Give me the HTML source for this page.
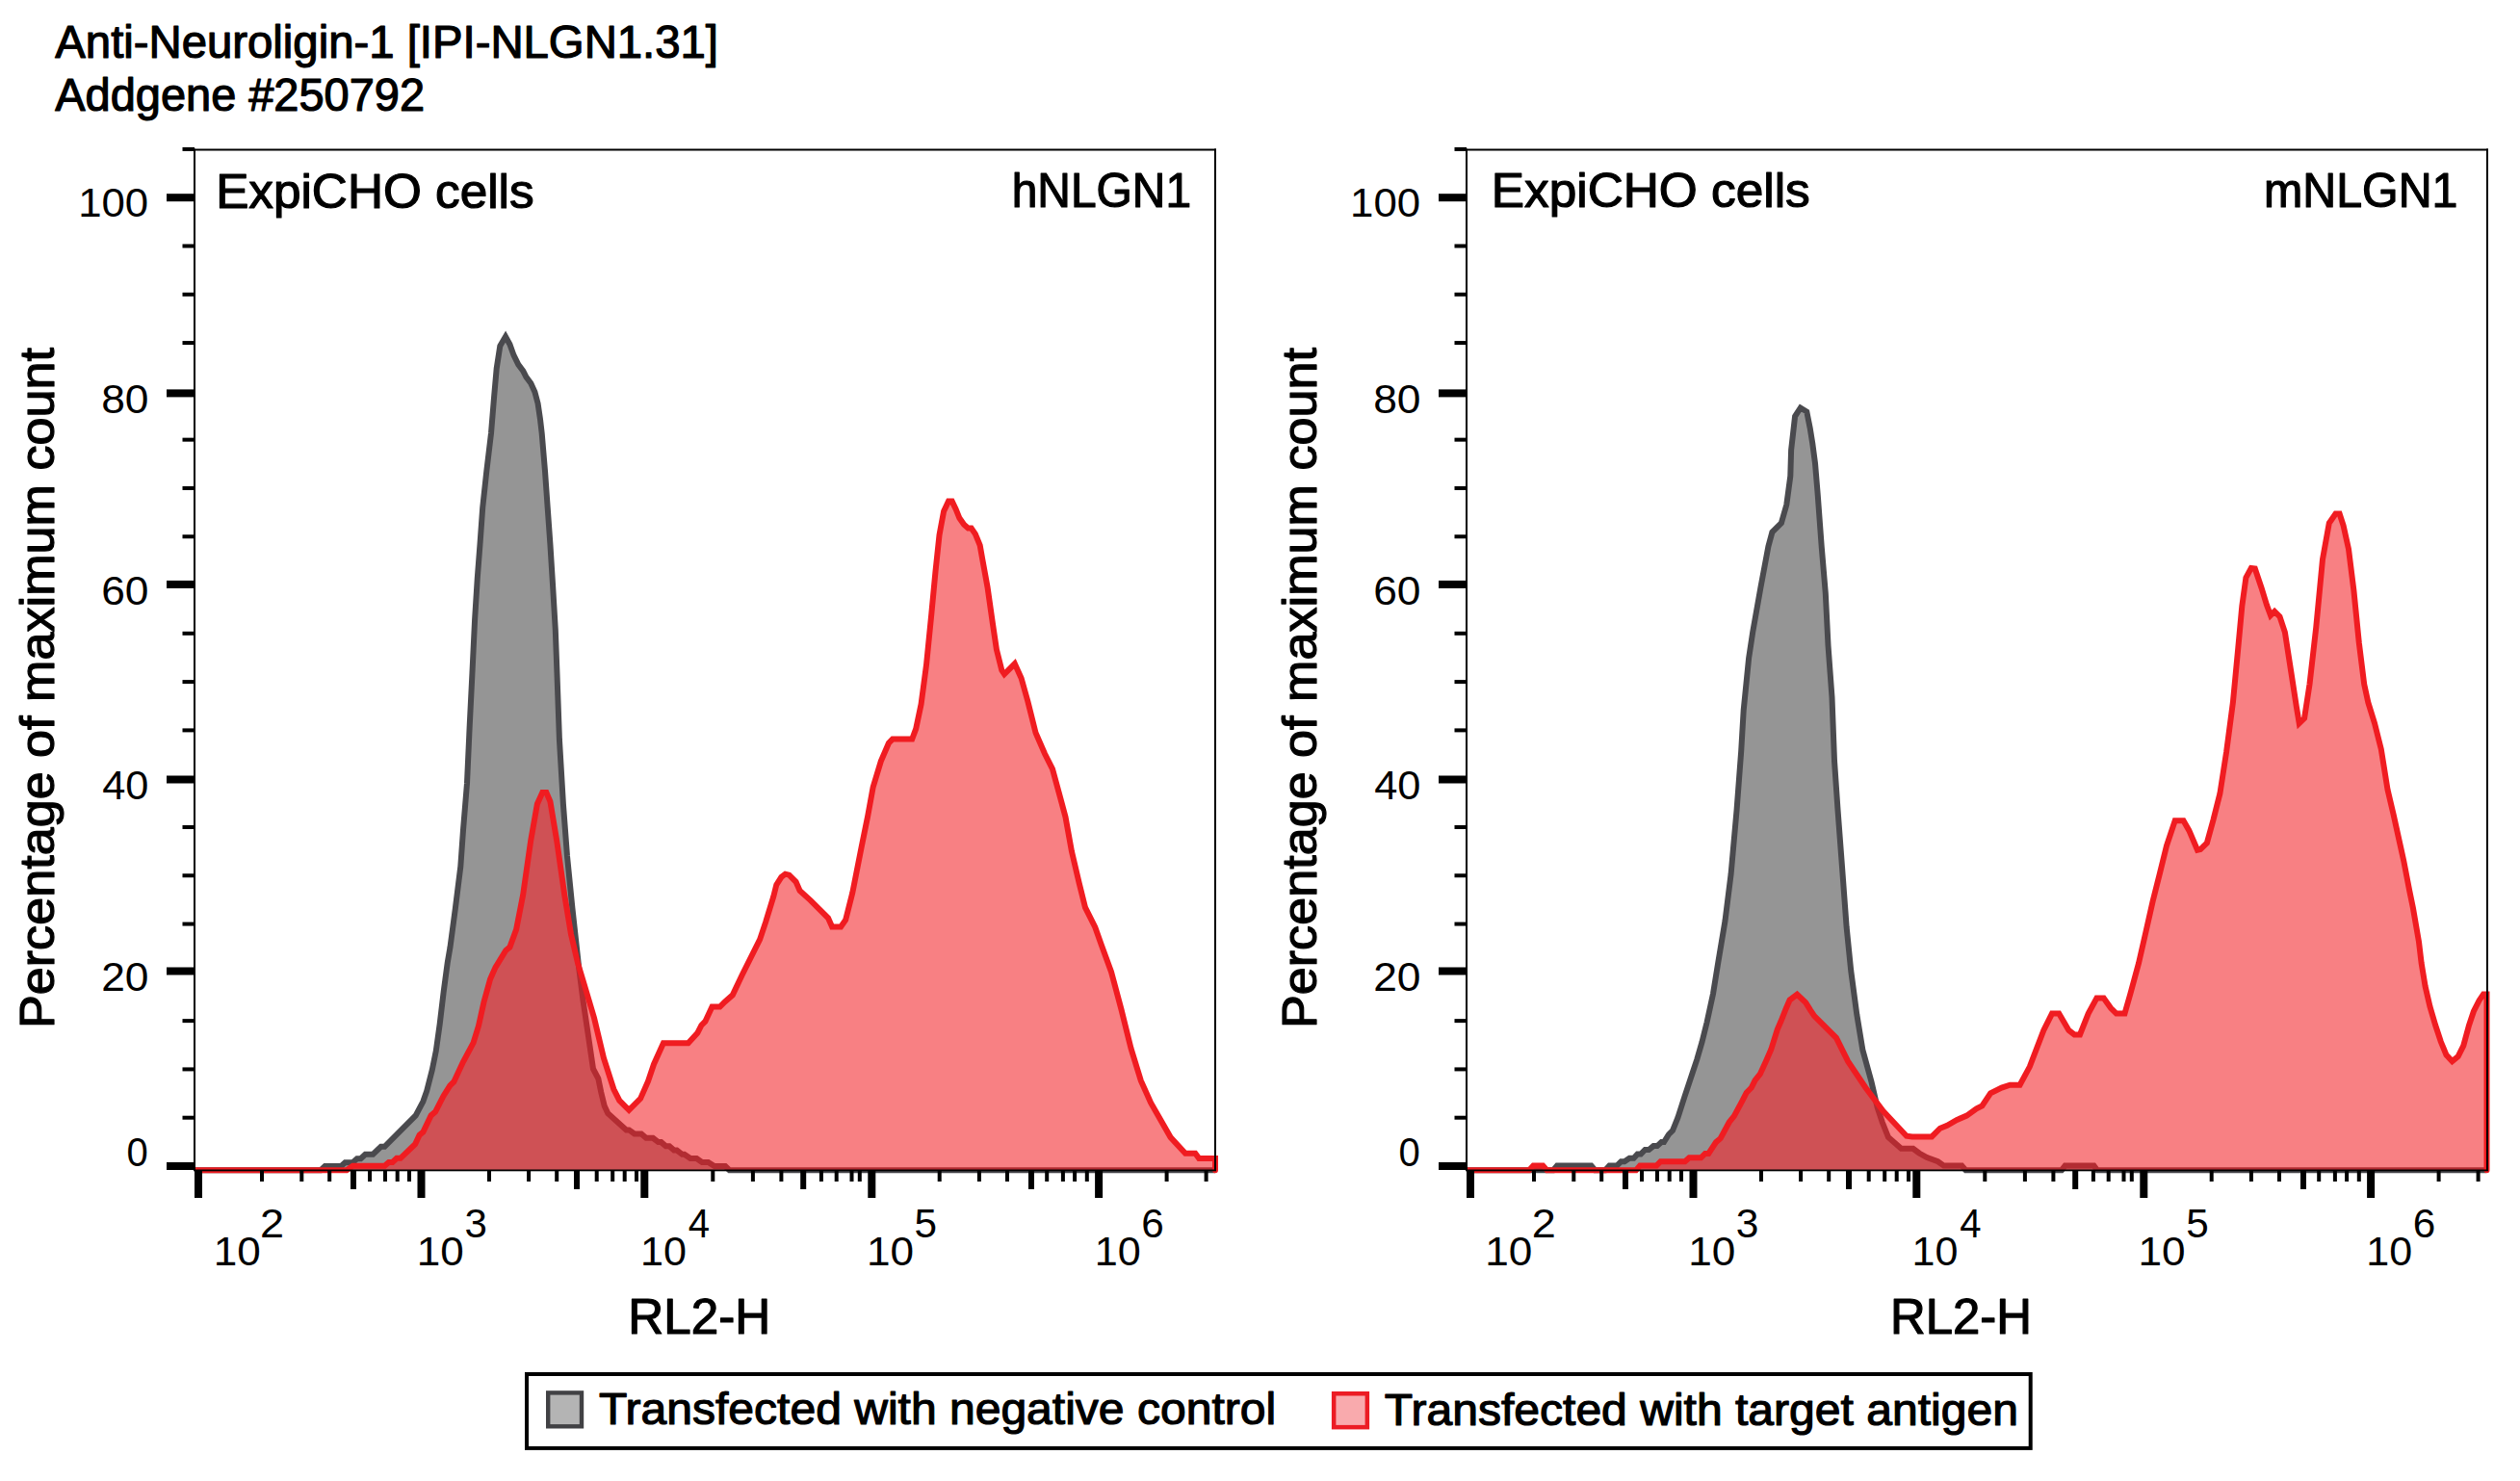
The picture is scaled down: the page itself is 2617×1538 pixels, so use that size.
<!DOCTYPE html>
<html><head><meta charset="utf-8"><style>
html,body{margin:0;padding:0;background:#fff;}
body{width:2617px;height:1538px;overflow:hidden;}
svg{display:block;}
</style></head><body>
<svg width="2617" height="1538" viewBox="0 0 2617 1538">
<rect width="2617" height="1538" fill="#fff"/>
<clipPath id="c1"><rect x="203" y="150" width="1063" height="1075"/></clipPath><clipPath id="c1g"><path d="M202 1215.2 L333 1215.2 L337.5 1211 L354.3 1211 L358.4 1207.3 L366.3 1207.3 L370.8 1203.2 L374.6 1203.2 L379.4 1198.7 L387.3 1198.7 L395.6 1190.8 L399.4 1190.8 L431.7 1158.4 L439.4 1143.8 L443.2 1133 L448.8 1111.1 L452.8 1091.3 L456.7 1063.5 L460.7 1029.8 L464.7 1000 L467.5 983.6 L472.9 943.1 L478.3 899.9 L481 862 L485 813.4 L487.7 754 L490.4 700 L493.1 643.3 L495.8 600.1 L498.5 565 L501.2 527.2 L505.3 489.3 L510 450 L513.2 411 L515.7 382.7 L519.3 359.2 L525 349.5 L529.4 357.6 L533.5 368.9 L538.3 378.6 L543.2 385.1 L546.5 391.6 L551.3 398 L555.4 407 L558.6 419.1 L561 435.3 L562.7 450 L566 489.3 L568.7 527.2 L571.4 565 L574.1 608.2 L576.8 654.1 L578.5 700 L580.9 767.5 L584.9 835 L589 889 L594.4 943.1 L601.2 1005.2 L605.6 1039.7 L611.5 1079.4 L616 1110 L621.3 1120 L624.2 1134.2 L627.7 1148.4 L631.3 1156.2 L650.4 1173.4 L653.2 1173.4 L658.9 1177.5 L666 1177.5 L671 1181.8 L678.1 1181.8 L683.7 1186.1 L686.6 1186.1 L691.5 1190.3 L695.1 1190.3 L700 1194.6 L702.9 1194.6 L708.5 1198.8 L710.7 1198.8 L717 1203.1 L723.4 1203.1 L729.1 1207 L735.5 1207 L741.9 1211 L753.2 1211 L757.5 1215.2 L1262 1215.2 Z"/></clipPath><clipPath id="c1r"><path d="M202 1215.2 L360 1215.2 L366.3 1210.8 L399.4 1210.8 L403.8 1207 L407.6 1207 L412 1202.8 L415.9 1202.8 L431.1 1188.2 L435.6 1178.7 L439.4 1175.5 L447.6 1158.4 L452.1 1154.6 L460.5 1138.2 L467.3 1127.4 L471.3 1123.4 L480.8 1103.1 L491.6 1082.9 L497 1065.3 L502.4 1041 L509.1 1016.7 L514.5 1004.6 L525.3 987 L529.4 983.6 L536.1 965.4 L543.1 929.6 L551.2 872.9 L557.9 835 L563.3 823 L567.4 823 L571.4 832.3 L578.2 872.9 L586.3 929.6 L593 970.1 L600 1000 L609 1030 L617 1057 L627 1099 L637.3 1131 L643.3 1142.9 L653.2 1152.8 L665.1 1140.9 L673 1123 L679 1105.2 L688.9 1083.3 L714.7 1083.3 L724.3 1072.8 L728.4 1064.7 L732.4 1060.7 L739.5 1045.5 L747.6 1045.5 L752.7 1040.4 L760.8 1033.3 L770.9 1012 L789.1 975.6 L795.2 957.4 L803.3 931 L806.3 918.9 L811.4 910.8 L815.5 907.7 L819.5 908.7 L826.6 915.8 L830.6 924.9 L841.8 935.1 L860 953.3 L864.1 962.4 L873.2 962.4 L878.2 955.3 L885.3 927 L894.5 880.4 L901.2 847.3 L906.6 817.6 L914.8 790.6 L922.9 771.7 L926.9 767.6 L947.2 767.6 L951.2 756.8 L956.6 731.2 L962 690.7 L967.4 636.6 L971.5 593.4 L975.5 555.6 L977 547.5 L980.1 531 L985 520.6 L988.7 520.6 L992.6 528.6 L996.4 538.1 L1001.1 544.7 L1005.4 548.5 L1008.7 548.5 L1012.9 554.6 L1017.7 566.4 L1020.1 580 L1025.5 609.6 L1030.9 647.5 L1034.9 674.5 L1040.3 696.1 L1043 700.1 L1053.8 689.3 L1060.6 704.2 L1067.4 728.5 L1075.5 760.9 L1084.9 782.5 L1093 798.7 L1101.1 828.4 L1106.5 848.5 L1112.9 884 L1120.6 916.7 L1127 942.4 L1137.3 962.9 L1143.7 980.9 L1154 1009.1 L1164.3 1047.6 L1174.5 1088.7 L1184.8 1122.1 L1195.1 1145.2 L1215.6 1181.1 L1231 1197.8 L1241.3 1197.8 L1245.1 1202.9 L1262 1202.9 L1262 1215.2 Z"/></clipPath><g clip-path="url(#c1)"><path d="M202 1215.2 L333 1215.2 L337.5 1211 L354.3 1211 L358.4 1207.3 L366.3 1207.3 L370.8 1203.2 L374.6 1203.2 L379.4 1198.7 L387.3 1198.7 L395.6 1190.8 L399.4 1190.8 L431.7 1158.4 L439.4 1143.8 L443.2 1133 L448.8 1111.1 L452.8 1091.3 L456.7 1063.5 L460.7 1029.8 L464.7 1000 L467.5 983.6 L472.9 943.1 L478.3 899.9 L481 862 L485 813.4 L487.7 754 L490.4 700 L493.1 643.3 L495.8 600.1 L498.5 565 L501.2 527.2 L505.3 489.3 L510 450 L513.2 411 L515.7 382.7 L519.3 359.2 L525 349.5 L529.4 357.6 L533.5 368.9 L538.3 378.6 L543.2 385.1 L546.5 391.6 L551.3 398 L555.4 407 L558.6 419.1 L561 435.3 L562.7 450 L566 489.3 L568.7 527.2 L571.4 565 L574.1 608.2 L576.8 654.1 L578.5 700 L580.9 767.5 L584.9 835 L589 889 L594.4 943.1 L601.2 1005.2 L605.6 1039.7 L611.5 1079.4 L616 1110 L621.3 1120 L624.2 1134.2 L627.7 1148.4 L631.3 1156.2 L650.4 1173.4 L653.2 1173.4 L658.9 1177.5 L666 1177.5 L671 1181.8 L678.1 1181.8 L683.7 1186.1 L686.6 1186.1 L691.5 1190.3 L695.1 1190.3 L700 1194.6 L702.9 1194.6 L708.5 1198.8 L710.7 1198.8 L717 1203.1 L723.4 1203.1 L729.1 1207 L735.5 1207 L741.9 1211 L753.2 1211 L757.5 1215.2 L1262 1215.2 Z" fill="#959595"/><path d="M202 1215.2 L360 1215.2 L366.3 1210.8 L399.4 1210.8 L403.8 1207 L407.6 1207 L412 1202.8 L415.9 1202.8 L431.1 1188.2 L435.6 1178.7 L439.4 1175.5 L447.6 1158.4 L452.1 1154.6 L460.5 1138.2 L467.3 1127.4 L471.3 1123.4 L480.8 1103.1 L491.6 1082.9 L497 1065.3 L502.4 1041 L509.1 1016.7 L514.5 1004.6 L525.3 987 L529.4 983.6 L536.1 965.4 L543.1 929.6 L551.2 872.9 L557.9 835 L563.3 823 L567.4 823 L571.4 832.3 L578.2 872.9 L586.3 929.6 L593 970.1 L600 1000 L609 1030 L617 1057 L627 1099 L637.3 1131 L643.3 1142.9 L653.2 1152.8 L665.1 1140.9 L673 1123 L679 1105.2 L688.9 1083.3 L714.7 1083.3 L724.3 1072.8 L728.4 1064.7 L732.4 1060.7 L739.5 1045.5 L747.6 1045.5 L752.7 1040.4 L760.8 1033.3 L770.9 1012 L789.1 975.6 L795.2 957.4 L803.3 931 L806.3 918.9 L811.4 910.8 L815.5 907.7 L819.5 908.7 L826.6 915.8 L830.6 924.9 L841.8 935.1 L860 953.3 L864.1 962.4 L873.2 962.4 L878.2 955.3 L885.3 927 L894.5 880.4 L901.2 847.3 L906.6 817.6 L914.8 790.6 L922.9 771.7 L926.9 767.6 L947.2 767.6 L951.2 756.8 L956.6 731.2 L962 690.7 L967.4 636.6 L971.5 593.4 L975.5 555.6 L977 547.5 L980.1 531 L985 520.6 L988.7 520.6 L992.6 528.6 L996.4 538.1 L1001.1 544.7 L1005.4 548.5 L1008.7 548.5 L1012.9 554.6 L1017.7 566.4 L1020.1 580 L1025.5 609.6 L1030.9 647.5 L1034.9 674.5 L1040.3 696.1 L1043 700.1 L1053.8 689.3 L1060.6 704.2 L1067.4 728.5 L1075.5 760.9 L1084.9 782.5 L1093 798.7 L1101.1 828.4 L1106.5 848.5 L1112.9 884 L1120.6 916.7 L1127 942.4 L1137.3 962.9 L1143.7 980.9 L1154 1009.1 L1164.3 1047.6 L1174.5 1088.7 L1184.8 1122.1 L1195.1 1145.2 L1215.6 1181.1 L1231 1197.8 L1241.3 1197.8 L1245.1 1202.9 L1262 1202.9 L1262 1215.2 Z" fill="#f88083"/><g clip-path="url(#c1g)"><path d="M202 1215.2 L360 1215.2 L366.3 1210.8 L399.4 1210.8 L403.8 1207 L407.6 1207 L412 1202.8 L415.9 1202.8 L431.1 1188.2 L435.6 1178.7 L439.4 1175.5 L447.6 1158.4 L452.1 1154.6 L460.5 1138.2 L467.3 1127.4 L471.3 1123.4 L480.8 1103.1 L491.6 1082.9 L497 1065.3 L502.4 1041 L509.1 1016.7 L514.5 1004.6 L525.3 987 L529.4 983.6 L536.1 965.4 L543.1 929.6 L551.2 872.9 L557.9 835 L563.3 823 L567.4 823 L571.4 832.3 L578.2 872.9 L586.3 929.6 L593 970.1 L600 1000 L609 1030 L617 1057 L627 1099 L637.3 1131 L643.3 1142.9 L653.2 1152.8 L665.1 1140.9 L673 1123 L679 1105.2 L688.9 1083.3 L714.7 1083.3 L724.3 1072.8 L728.4 1064.7 L732.4 1060.7 L739.5 1045.5 L747.6 1045.5 L752.7 1040.4 L760.8 1033.3 L770.9 1012 L789.1 975.6 L795.2 957.4 L803.3 931 L806.3 918.9 L811.4 910.8 L815.5 907.7 L819.5 908.7 L826.6 915.8 L830.6 924.9 L841.8 935.1 L860 953.3 L864.1 962.4 L873.2 962.4 L878.2 955.3 L885.3 927 L894.5 880.4 L901.2 847.3 L906.6 817.6 L914.8 790.6 L922.9 771.7 L926.9 767.6 L947.2 767.6 L951.2 756.8 L956.6 731.2 L962 690.7 L967.4 636.6 L971.5 593.4 L975.5 555.6 L977 547.5 L980.1 531 L985 520.6 L988.7 520.6 L992.6 528.6 L996.4 538.1 L1001.1 544.7 L1005.4 548.5 L1008.7 548.5 L1012.9 554.6 L1017.7 566.4 L1020.1 580 L1025.5 609.6 L1030.9 647.5 L1034.9 674.5 L1040.3 696.1 L1043 700.1 L1053.8 689.3 L1060.6 704.2 L1067.4 728.5 L1075.5 760.9 L1084.9 782.5 L1093 798.7 L1101.1 828.4 L1106.5 848.5 L1112.9 884 L1120.6 916.7 L1127 942.4 L1137.3 962.9 L1143.7 980.9 L1154 1009.1 L1164.3 1047.6 L1174.5 1088.7 L1184.8 1122.1 L1195.1 1145.2 L1215.6 1181.1 L1231 1197.8 L1241.3 1197.8 L1245.1 1202.9 L1262 1202.9 L1262 1215.2 Z" fill="#cf5155"/></g><mask id="c1m" maskUnits="userSpaceOnUse" x="0" y="0" width="2617" height="1538"><rect x="0" y="0" width="2617" height="1538" fill="#fff"/><path d="M202 1215.2 L360 1215.2 L366.3 1210.8 L399.4 1210.8 L403.8 1207 L407.6 1207 L412 1202.8 L415.9 1202.8 L431.1 1188.2 L435.6 1178.7 L439.4 1175.5 L447.6 1158.4 L452.1 1154.6 L460.5 1138.2 L467.3 1127.4 L471.3 1123.4 L480.8 1103.1 L491.6 1082.9 L497 1065.3 L502.4 1041 L509.1 1016.7 L514.5 1004.6 L525.3 987 L529.4 983.6 L536.1 965.4 L543.1 929.6 L551.2 872.9 L557.9 835 L563.3 823 L567.4 823 L571.4 832.3 L578.2 872.9 L586.3 929.6 L593 970.1 L600 1000 L609 1030 L617 1057 L627 1099 L637.3 1131 L643.3 1142.9 L653.2 1152.8 L665.1 1140.9 L673 1123 L679 1105.2 L688.9 1083.3 L714.7 1083.3 L724.3 1072.8 L728.4 1064.7 L732.4 1060.7 L739.5 1045.5 L747.6 1045.5 L752.7 1040.4 L760.8 1033.3 L770.9 1012 L789.1 975.6 L795.2 957.4 L803.3 931 L806.3 918.9 L811.4 910.8 L815.5 907.7 L819.5 908.7 L826.6 915.8 L830.6 924.9 L841.8 935.1 L860 953.3 L864.1 962.4 L873.2 962.4 L878.2 955.3 L885.3 927 L894.5 880.4 L901.2 847.3 L906.6 817.6 L914.8 790.6 L922.9 771.7 L926.9 767.6 L947.2 767.6 L951.2 756.8 L956.6 731.2 L962 690.7 L967.4 636.6 L971.5 593.4 L975.5 555.6 L977 547.5 L980.1 531 L985 520.6 L988.7 520.6 L992.6 528.6 L996.4 538.1 L1001.1 544.7 L1005.4 548.5 L1008.7 548.5 L1012.9 554.6 L1017.7 566.4 L1020.1 580 L1025.5 609.6 L1030.9 647.5 L1034.9 674.5 L1040.3 696.1 L1043 700.1 L1053.8 689.3 L1060.6 704.2 L1067.4 728.5 L1075.5 760.9 L1084.9 782.5 L1093 798.7 L1101.1 828.4 L1106.5 848.5 L1112.9 884 L1120.6 916.7 L1127 942.4 L1137.3 962.9 L1143.7 980.9 L1154 1009.1 L1164.3 1047.6 L1174.5 1088.7 L1184.8 1122.1 L1195.1 1145.2 L1215.6 1181.1 L1231 1197.8 L1241.3 1197.8 L1245.1 1202.9 L1262 1202.9 L1262 1215.2 Z" fill="#000"/></mask><g mask="url(#c1m)"><path d="M202 1215.2 L333 1215.2 L337.5 1211 L354.3 1211 L358.4 1207.3 L366.3 1207.3 L370.8 1203.2 L374.6 1203.2 L379.4 1198.7 L387.3 1198.7 L395.6 1190.8 L399.4 1190.8 L431.7 1158.4 L439.4 1143.8 L443.2 1133 L448.8 1111.1 L452.8 1091.3 L456.7 1063.5 L460.7 1029.8 L464.7 1000 L467.5 983.6 L472.9 943.1 L478.3 899.9 L481 862 L485 813.4 L487.7 754 L490.4 700 L493.1 643.3 L495.8 600.1 L498.5 565 L501.2 527.2 L505.3 489.3 L510 450 L513.2 411 L515.7 382.7 L519.3 359.2 L525 349.5 L529.4 357.6 L533.5 368.9 L538.3 378.6 L543.2 385.1 L546.5 391.6 L551.3 398 L555.4 407 L558.6 419.1 L561 435.3 L562.7 450 L566 489.3 L568.7 527.2 L571.4 565 L574.1 608.2 L576.8 654.1 L578.5 700 L580.9 767.5 L584.9 835 L589 889 L594.4 943.1 L601.2 1005.2 L605.6 1039.7 L611.5 1079.4 L616 1110 L621.3 1120 L624.2 1134.2 L627.7 1148.4 L631.3 1156.2 L650.4 1173.4 L653.2 1173.4 L658.9 1177.5 L666 1177.5 L671 1181.8 L678.1 1181.8 L683.7 1186.1 L686.6 1186.1 L691.5 1190.3 L695.1 1190.3 L700 1194.6 L702.9 1194.6 L708.5 1198.8 L710.7 1198.8 L717 1203.1 L723.4 1203.1 L729.1 1207 L735.5 1207 L741.9 1211 L753.2 1211 L757.5 1215.2 L1262 1215.2" fill="none" stroke="#4a4a4e" stroke-width="6" stroke-linejoin="miter" stroke-miterlimit="3"/></g><g clip-path="url(#c1r)"><path d="M202 1215.2 L333 1215.2 L337.5 1211 L354.3 1211 L358.4 1207.3 L366.3 1207.3 L370.8 1203.2 L374.6 1203.2 L379.4 1198.7 L387.3 1198.7 L395.6 1190.8 L399.4 1190.8 L431.7 1158.4 L439.4 1143.8 L443.2 1133 L448.8 1111.1 L452.8 1091.3 L456.7 1063.5 L460.7 1029.8 L464.7 1000 L467.5 983.6 L472.9 943.1 L478.3 899.9 L481 862 L485 813.4 L487.7 754 L490.4 700 L493.1 643.3 L495.8 600.1 L498.5 565 L501.2 527.2 L505.3 489.3 L510 450 L513.2 411 L515.7 382.7 L519.3 359.2 L525 349.5 L529.4 357.6 L533.5 368.9 L538.3 378.6 L543.2 385.1 L546.5 391.6 L551.3 398 L555.4 407 L558.6 419.1 L561 435.3 L562.7 450 L566 489.3 L568.7 527.2 L571.4 565 L574.1 608.2 L576.8 654.1 L578.5 700 L580.9 767.5 L584.9 835 L589 889 L594.4 943.1 L601.2 1005.2 L605.6 1039.7 L611.5 1079.4 L616 1110 L621.3 1120 L624.2 1134.2 L627.7 1148.4 L631.3 1156.2 L650.4 1173.4 L653.2 1173.4 L658.9 1177.5 L666 1177.5 L671 1181.8 L678.1 1181.8 L683.7 1186.1 L686.6 1186.1 L691.5 1190.3 L695.1 1190.3 L700 1194.6 L702.9 1194.6 L708.5 1198.8 L710.7 1198.8 L717 1203.1 L723.4 1203.1 L729.1 1207 L735.5 1207 L741.9 1211 L753.2 1211 L757.5 1215.2 L1262 1215.2" fill="none" stroke="#b22c32" stroke-width="6" stroke-linejoin="miter" stroke-miterlimit="3"/></g><path d="M202 1215.2 L360 1215.2 L366.3 1210.8 L399.4 1210.8 L403.8 1207 L407.6 1207 L412 1202.8 L415.9 1202.8 L431.1 1188.2 L435.6 1178.7 L439.4 1175.5 L447.6 1158.4 L452.1 1154.6 L460.5 1138.2 L467.3 1127.4 L471.3 1123.4 L480.8 1103.1 L491.6 1082.9 L497 1065.3 L502.4 1041 L509.1 1016.7 L514.5 1004.6 L525.3 987 L529.4 983.6 L536.1 965.4 L543.1 929.6 L551.2 872.9 L557.9 835 L563.3 823 L567.4 823 L571.4 832.3 L578.2 872.9 L586.3 929.6 L593 970.1 L600 1000 L609 1030 L617 1057 L627 1099 L637.3 1131 L643.3 1142.9 L653.2 1152.8 L665.1 1140.9 L673 1123 L679 1105.2 L688.9 1083.3 L714.7 1083.3 L724.3 1072.8 L728.4 1064.7 L732.4 1060.7 L739.5 1045.5 L747.6 1045.5 L752.7 1040.4 L760.8 1033.3 L770.9 1012 L789.1 975.6 L795.2 957.4 L803.3 931 L806.3 918.9 L811.4 910.8 L815.5 907.7 L819.5 908.7 L826.6 915.8 L830.6 924.9 L841.8 935.1 L860 953.3 L864.1 962.4 L873.2 962.4 L878.2 955.3 L885.3 927 L894.5 880.4 L901.2 847.3 L906.6 817.6 L914.8 790.6 L922.9 771.7 L926.9 767.6 L947.2 767.6 L951.2 756.8 L956.6 731.2 L962 690.7 L967.4 636.6 L971.5 593.4 L975.5 555.6 L977 547.5 L980.1 531 L985 520.6 L988.7 520.6 L992.6 528.6 L996.4 538.1 L1001.1 544.7 L1005.4 548.5 L1008.7 548.5 L1012.9 554.6 L1017.7 566.4 L1020.1 580 L1025.5 609.6 L1030.9 647.5 L1034.9 674.5 L1040.3 696.1 L1043 700.1 L1053.8 689.3 L1060.6 704.2 L1067.4 728.5 L1075.5 760.9 L1084.9 782.5 L1093 798.7 L1101.1 828.4 L1106.5 848.5 L1112.9 884 L1120.6 916.7 L1127 942.4 L1137.3 962.9 L1143.7 980.9 L1154 1009.1 L1164.3 1047.6 L1174.5 1088.7 L1184.8 1122.1 L1195.1 1145.2 L1215.6 1181.1 L1231 1197.8 L1241.3 1197.8 L1245.1 1202.9 L1262 1202.9 L1262 1215.2" fill="none" stroke="#f01c21" stroke-width="6" stroke-linejoin="miter" stroke-miterlimit="3" stroke-linecap="round"/></g>
<clipPath id="c2"><rect x="1524" y="150" width="1062" height="1075"/></clipPath><clipPath id="c2g"><path d="M1523 1215.2 L1613 1215.2 L1617 1210.6 L1652.5 1210.6 L1656.5 1215.2 L1667 1215.2 L1671.3 1210.6 L1679.1 1210.6 L1683.5 1206.2 L1687 1206.2 L1692.2 1202.7 L1696.6 1202.7 L1700.5 1198.4 L1704 1198.4 L1708.4 1194 L1712.3 1194 L1717.1 1190.1 L1721 1190.1 L1725.4 1186.1 L1728 1186.1 L1733 1178 L1737 1174 L1742.5 1160.4 L1749.5 1138.6 L1757.2 1115.5 L1762.3 1100.1 L1767.5 1082.1 L1772.6 1061.6 L1779 1032.1 L1784.2 1000 L1791.5 956.3 L1797.6 907.7 L1803.6 840.8 L1808.2 780 L1810.7 737.6 L1816.1 683.6 L1820.2 656.6 L1828.3 610.7 L1836.4 567.5 L1840.4 552.6 L1849.9 543.1 L1855.3 524.2 L1859.3 494.5 L1860.1 467.5 L1864.1 432.4 L1869.8 423.5 L1876.3 427.5 L1879.7 444.6 L1882.3 460.8 L1885 481 L1887.7 513.4 L1891.7 567.5 L1895.8 616.1 L1898.5 670.1 L1902.5 724.1 L1905 790 L1908.5 840.8 L1913.1 901.6 L1917.6 962.4 L1922.2 1008 L1928.3 1053.6 L1934.3 1090 L1943.5 1123.5 L1949.6 1150 L1954.8 1165.5 L1961 1181 L1974.4 1192.8 L1986.7 1192.8 L1993 1197.5 L2001.2 1202.1 L2012.5 1206.2 L2018.7 1210.6 L2037.3 1210.6 L2041.4 1215.2 L2141 1215.2 L2144.6 1210.6 L2174.5 1210.6 L2178 1215.2 L2582 1215.2 Z"/></clipPath><clipPath id="c2r"><path d="M1523 1215.2 L1588 1215.2 L1592.3 1210.6 L1602.3 1210.6 L1606.5 1215.2 L1699 1215.2 L1703.1 1210.6 L1720.2 1210.6 L1724.5 1206.2 L1749.8 1206.2 L1754.2 1202.3 L1766.4 1202.3 L1770.8 1197.9 L1774.3 1197.9 L1782.1 1186.1 L1786.7 1182.2 L1795.7 1165.5 L1800.8 1159.1 L1809.8 1142.4 L1813.7 1134.7 L1818.8 1129.6 L1822.6 1121.9 L1827.8 1115.5 L1834.2 1101.4 L1839.3 1089.8 L1845.7 1069.3 L1849.6 1060.3 L1854.7 1047.5 L1858.6 1038.5 L1866.3 1032.7 L1875.2 1041.1 L1880 1048.8 L1884.2 1055.1 L1907 1077.9 L1919.1 1102.2 L1937.4 1129.5 L1955.6 1153.9 L1979.9 1179.7 L1985.8 1180.4 L2006.1 1180.4 L2014.8 1171.7 L2022.1 1168.8 L2032.3 1163 L2042.4 1158.6 L2052.6 1151.3 L2058.4 1148.4 L2067.1 1135.4 L2078.7 1129.6 L2087.4 1126.7 L2097.6 1126.7 L2107.8 1107.8 L2122.3 1070 L2131 1052.6 L2138.2 1052.6 L2148.4 1070 L2154.2 1074.4 L2160 1074.4 L2168.7 1052.6 L2177.4 1036.6 L2184.7 1036.6 L2192 1046.8 L2197.8 1052.6 L2206.5 1052.6 L2212.3 1032.3 L2221 1000.3 L2228.3 968.4 L2235.5 936.5 L2242.8 907.4 L2250 878.4 L2258.7 852.3 L2267.5 852.3 L2273.3 862.4 L2282 882.8 L2285.1 882.1 L2291.9 875.4 L2298.6 851.1 L2305.4 824.1 L2312.1 780.9 L2318.9 729.5 L2324.3 672.8 L2328.3 629.6 L2332.4 599.9 L2337.8 590 L2341.8 590.5 L2348.6 610.7 L2354 628.3 L2358 639.1 L2362.1 635 L2367.5 640.4 L2372.9 656.6 L2379.6 699.8 L2385 734.9 L2387.7 751.1 L2393.1 745.7 L2398.5 710.6 L2405.3 651.2 L2412 581 L2418.8 543.2 L2425.5 533.5 L2429.6 533.5 L2433.6 545.9 L2439 570.2 L2444.4 613.4 L2449.8 667.4 L2455.2 710.6 L2459.3 729.5 L2466 751.1 L2472.8 778.1 L2479.5 820 L2485.7 846.3 L2492.7 878 L2496.2 893.8 L2502.3 925.4 L2505.9 942.9 L2512 978.1 L2514.6 1000 L2518.6 1024.3 L2523.5 1045.4 L2529.2 1064.8 L2534.8 1081.8 L2540.5 1095.6 L2546.6 1102.1 L2552.7 1097.2 L2558.3 1085.9 L2564 1064.8 L2568.9 1050.2 L2574.6 1038.9 L2579 1032.4 L2582.5 1032.4 L2582.5 1215.2 Z"/></clipPath><g clip-path="url(#c2)"><path d="M1523 1215.2 L1613 1215.2 L1617 1210.6 L1652.5 1210.6 L1656.5 1215.2 L1667 1215.2 L1671.3 1210.6 L1679.1 1210.6 L1683.5 1206.2 L1687 1206.2 L1692.2 1202.7 L1696.6 1202.7 L1700.5 1198.4 L1704 1198.4 L1708.4 1194 L1712.3 1194 L1717.1 1190.1 L1721 1190.1 L1725.4 1186.1 L1728 1186.1 L1733 1178 L1737 1174 L1742.5 1160.4 L1749.5 1138.6 L1757.2 1115.5 L1762.3 1100.1 L1767.5 1082.1 L1772.6 1061.6 L1779 1032.1 L1784.2 1000 L1791.5 956.3 L1797.6 907.7 L1803.6 840.8 L1808.2 780 L1810.7 737.6 L1816.1 683.6 L1820.2 656.6 L1828.3 610.7 L1836.4 567.5 L1840.4 552.6 L1849.9 543.1 L1855.3 524.2 L1859.3 494.5 L1860.1 467.5 L1864.1 432.4 L1869.8 423.5 L1876.3 427.5 L1879.7 444.6 L1882.3 460.8 L1885 481 L1887.7 513.4 L1891.7 567.5 L1895.8 616.1 L1898.5 670.1 L1902.5 724.1 L1905 790 L1908.5 840.8 L1913.1 901.6 L1917.6 962.4 L1922.2 1008 L1928.3 1053.6 L1934.3 1090 L1943.5 1123.5 L1949.6 1150 L1954.8 1165.5 L1961 1181 L1974.4 1192.8 L1986.7 1192.8 L1993 1197.5 L2001.2 1202.1 L2012.5 1206.2 L2018.7 1210.6 L2037.3 1210.6 L2041.4 1215.2 L2141 1215.2 L2144.6 1210.6 L2174.5 1210.6 L2178 1215.2 L2582 1215.2 Z" fill="#959595"/><path d="M1523 1215.2 L1588 1215.2 L1592.3 1210.6 L1602.3 1210.6 L1606.5 1215.2 L1699 1215.2 L1703.1 1210.6 L1720.2 1210.6 L1724.5 1206.2 L1749.8 1206.2 L1754.2 1202.3 L1766.4 1202.3 L1770.8 1197.9 L1774.3 1197.9 L1782.1 1186.1 L1786.7 1182.2 L1795.7 1165.5 L1800.8 1159.1 L1809.8 1142.4 L1813.7 1134.7 L1818.8 1129.6 L1822.6 1121.9 L1827.8 1115.5 L1834.2 1101.4 L1839.3 1089.8 L1845.7 1069.3 L1849.6 1060.3 L1854.7 1047.5 L1858.6 1038.5 L1866.3 1032.7 L1875.2 1041.1 L1880 1048.8 L1884.2 1055.1 L1907 1077.9 L1919.1 1102.2 L1937.4 1129.5 L1955.6 1153.9 L1979.9 1179.7 L1985.8 1180.4 L2006.1 1180.4 L2014.8 1171.7 L2022.1 1168.8 L2032.3 1163 L2042.4 1158.6 L2052.6 1151.3 L2058.4 1148.4 L2067.1 1135.4 L2078.7 1129.6 L2087.4 1126.7 L2097.6 1126.7 L2107.8 1107.8 L2122.3 1070 L2131 1052.6 L2138.2 1052.6 L2148.4 1070 L2154.2 1074.4 L2160 1074.4 L2168.7 1052.6 L2177.4 1036.6 L2184.7 1036.6 L2192 1046.8 L2197.8 1052.6 L2206.5 1052.6 L2212.3 1032.3 L2221 1000.3 L2228.3 968.4 L2235.5 936.5 L2242.8 907.4 L2250 878.4 L2258.7 852.3 L2267.5 852.3 L2273.3 862.4 L2282 882.8 L2285.1 882.1 L2291.9 875.4 L2298.6 851.1 L2305.4 824.1 L2312.1 780.9 L2318.9 729.5 L2324.3 672.8 L2328.3 629.6 L2332.4 599.9 L2337.8 590 L2341.8 590.5 L2348.6 610.7 L2354 628.3 L2358 639.1 L2362.1 635 L2367.5 640.4 L2372.9 656.6 L2379.6 699.8 L2385 734.9 L2387.7 751.1 L2393.1 745.7 L2398.5 710.6 L2405.3 651.2 L2412 581 L2418.8 543.2 L2425.5 533.5 L2429.6 533.5 L2433.6 545.9 L2439 570.2 L2444.4 613.4 L2449.8 667.4 L2455.2 710.6 L2459.3 729.5 L2466 751.1 L2472.8 778.1 L2479.5 820 L2485.7 846.3 L2492.7 878 L2496.2 893.8 L2502.3 925.4 L2505.9 942.9 L2512 978.1 L2514.6 1000 L2518.6 1024.3 L2523.5 1045.4 L2529.2 1064.8 L2534.8 1081.8 L2540.5 1095.6 L2546.6 1102.1 L2552.7 1097.2 L2558.3 1085.9 L2564 1064.8 L2568.9 1050.2 L2574.6 1038.9 L2579 1032.4 L2582.5 1032.4 L2582.5 1215.2 Z" fill="#f88083"/><g clip-path="url(#c2g)"><path d="M1523 1215.2 L1588 1215.2 L1592.3 1210.6 L1602.3 1210.6 L1606.5 1215.2 L1699 1215.2 L1703.1 1210.6 L1720.2 1210.6 L1724.5 1206.2 L1749.8 1206.2 L1754.2 1202.3 L1766.4 1202.3 L1770.8 1197.9 L1774.3 1197.9 L1782.1 1186.1 L1786.7 1182.2 L1795.7 1165.5 L1800.8 1159.1 L1809.8 1142.4 L1813.7 1134.7 L1818.8 1129.6 L1822.6 1121.9 L1827.8 1115.5 L1834.2 1101.4 L1839.3 1089.8 L1845.7 1069.3 L1849.6 1060.3 L1854.7 1047.5 L1858.6 1038.5 L1866.3 1032.7 L1875.2 1041.1 L1880 1048.8 L1884.2 1055.1 L1907 1077.9 L1919.1 1102.2 L1937.4 1129.5 L1955.6 1153.9 L1979.9 1179.7 L1985.8 1180.4 L2006.1 1180.4 L2014.8 1171.7 L2022.1 1168.8 L2032.3 1163 L2042.4 1158.6 L2052.6 1151.3 L2058.4 1148.4 L2067.1 1135.4 L2078.7 1129.6 L2087.4 1126.7 L2097.6 1126.7 L2107.8 1107.8 L2122.3 1070 L2131 1052.6 L2138.2 1052.6 L2148.4 1070 L2154.2 1074.4 L2160 1074.4 L2168.7 1052.6 L2177.4 1036.6 L2184.7 1036.6 L2192 1046.8 L2197.8 1052.6 L2206.5 1052.6 L2212.3 1032.3 L2221 1000.3 L2228.3 968.4 L2235.5 936.5 L2242.8 907.4 L2250 878.4 L2258.7 852.3 L2267.5 852.3 L2273.3 862.4 L2282 882.8 L2285.1 882.1 L2291.9 875.4 L2298.6 851.1 L2305.4 824.1 L2312.1 780.9 L2318.9 729.5 L2324.3 672.8 L2328.3 629.6 L2332.4 599.9 L2337.8 590 L2341.8 590.5 L2348.6 610.7 L2354 628.3 L2358 639.1 L2362.1 635 L2367.5 640.4 L2372.9 656.6 L2379.6 699.8 L2385 734.9 L2387.7 751.1 L2393.1 745.7 L2398.5 710.6 L2405.3 651.2 L2412 581 L2418.8 543.2 L2425.5 533.5 L2429.6 533.5 L2433.6 545.9 L2439 570.2 L2444.4 613.4 L2449.8 667.4 L2455.2 710.6 L2459.3 729.5 L2466 751.1 L2472.8 778.1 L2479.5 820 L2485.7 846.3 L2492.7 878 L2496.2 893.8 L2502.3 925.4 L2505.9 942.9 L2512 978.1 L2514.6 1000 L2518.6 1024.3 L2523.5 1045.4 L2529.2 1064.8 L2534.8 1081.8 L2540.5 1095.6 L2546.6 1102.1 L2552.7 1097.2 L2558.3 1085.9 L2564 1064.8 L2568.9 1050.2 L2574.6 1038.9 L2579 1032.4 L2582.5 1032.4 L2582.5 1215.2 Z" fill="#cf5155"/></g><mask id="c2m" maskUnits="userSpaceOnUse" x="0" y="0" width="2617" height="1538"><rect x="0" y="0" width="2617" height="1538" fill="#fff"/><path d="M1523 1215.2 L1588 1215.2 L1592.3 1210.6 L1602.3 1210.6 L1606.5 1215.2 L1699 1215.2 L1703.1 1210.6 L1720.2 1210.6 L1724.5 1206.2 L1749.8 1206.2 L1754.2 1202.3 L1766.4 1202.3 L1770.8 1197.9 L1774.3 1197.9 L1782.1 1186.1 L1786.7 1182.2 L1795.7 1165.5 L1800.8 1159.1 L1809.8 1142.4 L1813.7 1134.7 L1818.8 1129.6 L1822.6 1121.9 L1827.8 1115.5 L1834.2 1101.4 L1839.3 1089.8 L1845.7 1069.3 L1849.6 1060.3 L1854.7 1047.5 L1858.6 1038.5 L1866.3 1032.7 L1875.2 1041.1 L1880 1048.8 L1884.2 1055.1 L1907 1077.9 L1919.1 1102.2 L1937.4 1129.5 L1955.6 1153.9 L1979.9 1179.7 L1985.8 1180.4 L2006.1 1180.4 L2014.8 1171.7 L2022.1 1168.8 L2032.3 1163 L2042.4 1158.6 L2052.6 1151.3 L2058.4 1148.4 L2067.1 1135.4 L2078.7 1129.6 L2087.4 1126.7 L2097.6 1126.7 L2107.8 1107.8 L2122.3 1070 L2131 1052.6 L2138.2 1052.6 L2148.4 1070 L2154.2 1074.4 L2160 1074.4 L2168.7 1052.6 L2177.4 1036.6 L2184.7 1036.6 L2192 1046.8 L2197.8 1052.6 L2206.5 1052.6 L2212.3 1032.3 L2221 1000.3 L2228.3 968.4 L2235.5 936.5 L2242.8 907.4 L2250 878.4 L2258.7 852.3 L2267.5 852.3 L2273.3 862.4 L2282 882.8 L2285.1 882.1 L2291.9 875.4 L2298.6 851.1 L2305.4 824.1 L2312.1 780.9 L2318.9 729.5 L2324.3 672.8 L2328.3 629.6 L2332.4 599.9 L2337.8 590 L2341.8 590.5 L2348.6 610.7 L2354 628.3 L2358 639.1 L2362.1 635 L2367.5 640.4 L2372.9 656.6 L2379.6 699.8 L2385 734.9 L2387.7 751.1 L2393.1 745.7 L2398.5 710.6 L2405.3 651.2 L2412 581 L2418.8 543.2 L2425.5 533.5 L2429.6 533.5 L2433.6 545.9 L2439 570.2 L2444.4 613.4 L2449.8 667.4 L2455.2 710.6 L2459.3 729.5 L2466 751.1 L2472.8 778.1 L2479.5 820 L2485.7 846.3 L2492.7 878 L2496.2 893.8 L2502.3 925.4 L2505.9 942.9 L2512 978.1 L2514.6 1000 L2518.6 1024.3 L2523.5 1045.4 L2529.2 1064.8 L2534.8 1081.8 L2540.5 1095.6 L2546.6 1102.1 L2552.7 1097.2 L2558.3 1085.9 L2564 1064.8 L2568.9 1050.2 L2574.6 1038.9 L2579 1032.4 L2582.5 1032.4 L2582.5 1215.2 Z" fill="#000"/></mask><g mask="url(#c2m)"><path d="M1523 1215.2 L1613 1215.2 L1617 1210.6 L1652.5 1210.6 L1656.5 1215.2 L1667 1215.2 L1671.3 1210.6 L1679.1 1210.6 L1683.5 1206.2 L1687 1206.2 L1692.2 1202.7 L1696.6 1202.7 L1700.5 1198.4 L1704 1198.4 L1708.4 1194 L1712.3 1194 L1717.1 1190.1 L1721 1190.1 L1725.4 1186.1 L1728 1186.1 L1733 1178 L1737 1174 L1742.5 1160.4 L1749.5 1138.6 L1757.2 1115.5 L1762.3 1100.1 L1767.5 1082.1 L1772.6 1061.6 L1779 1032.1 L1784.2 1000 L1791.5 956.3 L1797.6 907.7 L1803.6 840.8 L1808.2 780 L1810.7 737.6 L1816.1 683.6 L1820.2 656.6 L1828.3 610.7 L1836.4 567.5 L1840.4 552.6 L1849.9 543.1 L1855.3 524.2 L1859.3 494.5 L1860.1 467.5 L1864.1 432.4 L1869.8 423.5 L1876.3 427.5 L1879.7 444.6 L1882.3 460.8 L1885 481 L1887.7 513.4 L1891.7 567.5 L1895.8 616.1 L1898.5 670.1 L1902.5 724.1 L1905 790 L1908.5 840.8 L1913.1 901.6 L1917.6 962.4 L1922.2 1008 L1928.3 1053.6 L1934.3 1090 L1943.5 1123.5 L1949.6 1150 L1954.8 1165.5 L1961 1181 L1974.4 1192.8 L1986.7 1192.8 L1993 1197.5 L2001.2 1202.1 L2012.5 1206.2 L2018.7 1210.6 L2037.3 1210.6 L2041.4 1215.2 L2141 1215.2 L2144.6 1210.6 L2174.5 1210.6 L2178 1215.2 L2582 1215.2" fill="none" stroke="#4a4a4e" stroke-width="6" stroke-linejoin="miter" stroke-miterlimit="3"/></g><g clip-path="url(#c2r)"><path d="M1523 1215.2 L1613 1215.2 L1617 1210.6 L1652.5 1210.6 L1656.5 1215.2 L1667 1215.2 L1671.3 1210.6 L1679.1 1210.6 L1683.5 1206.2 L1687 1206.2 L1692.2 1202.7 L1696.6 1202.7 L1700.5 1198.4 L1704 1198.4 L1708.4 1194 L1712.3 1194 L1717.1 1190.1 L1721 1190.1 L1725.4 1186.1 L1728 1186.1 L1733 1178 L1737 1174 L1742.5 1160.4 L1749.5 1138.6 L1757.2 1115.5 L1762.3 1100.1 L1767.5 1082.1 L1772.6 1061.6 L1779 1032.1 L1784.2 1000 L1791.5 956.3 L1797.6 907.7 L1803.6 840.8 L1808.2 780 L1810.7 737.6 L1816.1 683.6 L1820.2 656.6 L1828.3 610.7 L1836.4 567.5 L1840.4 552.6 L1849.9 543.1 L1855.3 524.2 L1859.3 494.5 L1860.1 467.5 L1864.1 432.4 L1869.8 423.5 L1876.3 427.5 L1879.7 444.6 L1882.3 460.8 L1885 481 L1887.7 513.4 L1891.7 567.5 L1895.8 616.1 L1898.5 670.1 L1902.5 724.1 L1905 790 L1908.5 840.8 L1913.1 901.6 L1917.6 962.4 L1922.2 1008 L1928.3 1053.6 L1934.3 1090 L1943.5 1123.5 L1949.6 1150 L1954.8 1165.5 L1961 1181 L1974.4 1192.8 L1986.7 1192.8 L1993 1197.5 L2001.2 1202.1 L2012.5 1206.2 L2018.7 1210.6 L2037.3 1210.6 L2041.4 1215.2 L2141 1215.2 L2144.6 1210.6 L2174.5 1210.6 L2178 1215.2 L2582 1215.2" fill="none" stroke="#b22c32" stroke-width="6" stroke-linejoin="miter" stroke-miterlimit="3"/></g><path d="M1523 1215.2 L1588 1215.2 L1592.3 1210.6 L1602.3 1210.6 L1606.5 1215.2 L1699 1215.2 L1703.1 1210.6 L1720.2 1210.6 L1724.5 1206.2 L1749.8 1206.2 L1754.2 1202.3 L1766.4 1202.3 L1770.8 1197.9 L1774.3 1197.9 L1782.1 1186.1 L1786.7 1182.2 L1795.7 1165.5 L1800.8 1159.1 L1809.8 1142.4 L1813.7 1134.7 L1818.8 1129.6 L1822.6 1121.9 L1827.8 1115.5 L1834.2 1101.4 L1839.3 1089.8 L1845.7 1069.3 L1849.6 1060.3 L1854.7 1047.5 L1858.6 1038.5 L1866.3 1032.7 L1875.2 1041.1 L1880 1048.8 L1884.2 1055.1 L1907 1077.9 L1919.1 1102.2 L1937.4 1129.5 L1955.6 1153.9 L1979.9 1179.7 L1985.8 1180.4 L2006.1 1180.4 L2014.8 1171.7 L2022.1 1168.8 L2032.3 1163 L2042.4 1158.6 L2052.6 1151.3 L2058.4 1148.4 L2067.1 1135.4 L2078.7 1129.6 L2087.4 1126.7 L2097.6 1126.7 L2107.8 1107.8 L2122.3 1070 L2131 1052.6 L2138.2 1052.6 L2148.4 1070 L2154.2 1074.4 L2160 1074.4 L2168.7 1052.6 L2177.4 1036.6 L2184.7 1036.6 L2192 1046.8 L2197.8 1052.6 L2206.5 1052.6 L2212.3 1032.3 L2221 1000.3 L2228.3 968.4 L2235.5 936.5 L2242.8 907.4 L2250 878.4 L2258.7 852.3 L2267.5 852.3 L2273.3 862.4 L2282 882.8 L2285.1 882.1 L2291.9 875.4 L2298.6 851.1 L2305.4 824.1 L2312.1 780.9 L2318.9 729.5 L2324.3 672.8 L2328.3 629.6 L2332.4 599.9 L2337.8 590 L2341.8 590.5 L2348.6 610.7 L2354 628.3 L2358 639.1 L2362.1 635 L2367.5 640.4 L2372.9 656.6 L2379.6 699.8 L2385 734.9 L2387.7 751.1 L2393.1 745.7 L2398.5 710.6 L2405.3 651.2 L2412 581 L2418.8 543.2 L2425.5 533.5 L2429.6 533.5 L2433.6 545.9 L2439 570.2 L2444.4 613.4 L2449.8 667.4 L2455.2 710.6 L2459.3 729.5 L2466 751.1 L2472.8 778.1 L2479.5 820 L2485.7 846.3 L2492.7 878 L2496.2 893.8 L2502.3 925.4 L2505.9 942.9 L2512 978.1 L2514.6 1000 L2518.6 1024.3 L2523.5 1045.4 L2529.2 1064.8 L2534.8 1081.8 L2540.5 1095.6 L2546.6 1102.1 L2552.7 1097.2 L2558.3 1085.9 L2564 1064.8 L2568.9 1050.2 L2574.6 1038.9 L2579 1032.4 L2582.5 1032.4 L2582.5 1215.2" fill="none" stroke="#f01c21" stroke-width="6" stroke-linejoin="miter" stroke-miterlimit="3" stroke-linecap="round"/></g>
<rect x="201" y="154.5" width="1062" height="2" fill="#000"/><rect x="201" y="154.5" width="2" height="1061" fill="#000"/><rect x="1261" y="154.5" width="2" height="1061" fill="#000"/><rect x="201" y="1214.5" width="1062" height="1.8" fill="#000"/><rect x="173" y="1207" width="29" height="8" fill="#000"/><rect x="173" y="1004.5" width="29" height="8" fill="#000"/><rect x="173" y="805.5" width="29" height="8" fill="#000"/><rect x="173" y="602.9" width="29" height="8" fill="#000"/><rect x="173" y="404.4" width="29" height="8" fill="#000"/><rect x="173" y="201.2" width="29" height="8" fill="#000"/><rect x="189.5" y="1158.71" width="12.5" height="4" fill="#000"/><rect x="189.5" y="1108.42" width="12.5" height="4" fill="#000"/><rect x="189.5" y="1058.13" width="12.5" height="4" fill="#000"/><rect x="189.5" y="957.55" width="12.5" height="4" fill="#000"/><rect x="189.5" y="907.26" width="12.5" height="4" fill="#000"/><rect x="189.5" y="856.97" width="12.5" height="4" fill="#000"/><rect x="189.5" y="756.39" width="12.5" height="4" fill="#000"/><rect x="189.5" y="706.1" width="12.5" height="4" fill="#000"/><rect x="189.5" y="655.81" width="12.5" height="4" fill="#000"/><rect x="189.5" y="555.23" width="12.5" height="4" fill="#000"/><rect x="189.5" y="504.94" width="12.5" height="4" fill="#000"/><rect x="189.5" y="454.65" width="12.5" height="4" fill="#000"/><rect x="189.5" y="354.07" width="12.5" height="4" fill="#000"/><rect x="189.5" y="303.78" width="12.5" height="4" fill="#000"/><rect x="189.5" y="253.49" width="12.5" height="4" fill="#000"/><rect x="189.5" y="152.91" width="12.5" height="4" fill="#000"/><rect x="202" y="1215" width="8" height="29" fill="#000"/><rect x="433.5" y="1215" width="8" height="29" fill="#000"/><rect x="665.3" y="1215" width="8" height="29" fill="#000"/><rect x="901.3" y="1215" width="8" height="29" fill="#000"/><rect x="1137.1" y="1215" width="8" height="29" fill="#000"/><rect x="270" y="1215" width="4" height="12" fill="#000"/><rect x="311.3" y="1215" width="4" height="12" fill="#000"/><rect x="340.2" y="1215" width="4" height="12" fill="#000"/><rect x="364" y="1215" width="6" height="20" fill="#000"/><rect x="382" y="1215" width="4" height="12" fill="#000"/><rect x="398" y="1215" width="4" height="12" fill="#000"/><rect x="410.7" y="1215" width="4" height="12" fill="#000"/><rect x="423" y="1215" width="4" height="12" fill="#000"/><rect x="506" y="1215" width="4" height="12" fill="#000"/><rect x="547.1" y="1215" width="4" height="12" fill="#000"/><rect x="576.2" y="1215" width="4" height="12" fill="#000"/><rect x="596" y="1215" width="6" height="20" fill="#000"/><rect x="617.7" y="1215" width="4" height="12" fill="#000"/><rect x="634.2" y="1215" width="4" height="12" fill="#000"/><rect x="646.7" y="1215" width="4" height="12" fill="#000"/><rect x="659" y="1215" width="4" height="12" fill="#000"/><rect x="738.3" y="1215" width="4" height="12" fill="#000"/><rect x="779.9" y="1215" width="4" height="12" fill="#000"/><rect x="809.4" y="1215" width="4" height="12" fill="#000"/><rect x="831.2" y="1215" width="6" height="20" fill="#000"/><rect x="850.9" y="1215" width="4" height="12" fill="#000"/><rect x="866.7" y="1215" width="4" height="12" fill="#000"/><rect x="882.5" y="1215" width="4" height="12" fill="#000"/><rect x="890.8" y="1215" width="4" height="12" fill="#000"/><rect x="973.7" y="1215" width="4" height="12" fill="#000"/><rect x="1014.9" y="1215" width="4" height="12" fill="#000"/><rect x="1044" y="1215" width="4" height="12" fill="#000"/><rect x="1068" y="1215" width="6" height="20" fill="#000"/><rect x="1085.2" y="1215" width="4" height="12" fill="#000"/><rect x="1101.9" y="1215" width="4" height="12" fill="#000"/><rect x="1114.1" y="1215" width="4" height="12" fill="#000"/><rect x="1126.8" y="1215" width="4" height="12" fill="#000"/><rect x="1209.6" y="1215" width="4" height="12" fill="#000"/><rect x="1250.6" y="1215" width="4" height="12" fill="#000"/>
<rect x="1522" y="154.5" width="1062" height="2" fill="#000"/><rect x="1522" y="154.5" width="2" height="1061" fill="#000"/><rect x="2582" y="154.5" width="2" height="1061" fill="#000"/><rect x="1522" y="1214.5" width="1062" height="1.8" fill="#000"/><rect x="1494" y="1207" width="29" height="8" fill="#000"/><rect x="1494" y="1004.5" width="29" height="8" fill="#000"/><rect x="1494" y="805.5" width="29" height="8" fill="#000"/><rect x="1494" y="602.9" width="29" height="8" fill="#000"/><rect x="1494" y="404.4" width="29" height="8" fill="#000"/><rect x="1494" y="201.2" width="29" height="8" fill="#000"/><rect x="1510.5" y="1158.71" width="12.5" height="4" fill="#000"/><rect x="1510.5" y="1108.42" width="12.5" height="4" fill="#000"/><rect x="1510.5" y="1058.13" width="12.5" height="4" fill="#000"/><rect x="1510.5" y="957.55" width="12.5" height="4" fill="#000"/><rect x="1510.5" y="907.26" width="12.5" height="4" fill="#000"/><rect x="1510.5" y="856.97" width="12.5" height="4" fill="#000"/><rect x="1510.5" y="756.39" width="12.5" height="4" fill="#000"/><rect x="1510.5" y="706.1" width="12.5" height="4" fill="#000"/><rect x="1510.5" y="655.81" width="12.5" height="4" fill="#000"/><rect x="1510.5" y="555.23" width="12.5" height="4" fill="#000"/><rect x="1510.5" y="504.94" width="12.5" height="4" fill="#000"/><rect x="1510.5" y="454.65" width="12.5" height="4" fill="#000"/><rect x="1510.5" y="354.07" width="12.5" height="4" fill="#000"/><rect x="1510.5" y="303.78" width="12.5" height="4" fill="#000"/><rect x="1510.5" y="253.49" width="12.5" height="4" fill="#000"/><rect x="1510.5" y="152.91" width="12.5" height="4" fill="#000"/><rect x="1523" y="1215" width="8" height="29" fill="#000"/><rect x="1754.5" y="1215" width="8" height="29" fill="#000"/><rect x="1986.3" y="1215" width="8" height="29" fill="#000"/><rect x="2222.3" y="1215" width="8" height="29" fill="#000"/><rect x="2458.1" y="1215" width="8" height="29" fill="#000"/><rect x="1591" y="1215" width="4" height="12" fill="#000"/><rect x="1632.3" y="1215" width="4" height="12" fill="#000"/><rect x="1661.2" y="1215" width="4" height="12" fill="#000"/><rect x="1685" y="1215" width="6" height="20" fill="#000"/><rect x="1703" y="1215" width="4" height="12" fill="#000"/><rect x="1719" y="1215" width="4" height="12" fill="#000"/><rect x="1731.7" y="1215" width="4" height="12" fill="#000"/><rect x="1744" y="1215" width="4" height="12" fill="#000"/><rect x="1827" y="1215" width="4" height="12" fill="#000"/><rect x="1868.1" y="1215" width="4" height="12" fill="#000"/><rect x="1897.2" y="1215" width="4" height="12" fill="#000"/><rect x="1917" y="1215" width="6" height="20" fill="#000"/><rect x="1938.7" y="1215" width="4" height="12" fill="#000"/><rect x="1955.2" y="1215" width="4" height="12" fill="#000"/><rect x="1967.7" y="1215" width="4" height="12" fill="#000"/><rect x="1980" y="1215" width="4" height="12" fill="#000"/><rect x="2059.3" y="1215" width="4" height="12" fill="#000"/><rect x="2100.9" y="1215" width="4" height="12" fill="#000"/><rect x="2130.4" y="1215" width="4" height="12" fill="#000"/><rect x="2152.2" y="1215" width="6" height="20" fill="#000"/><rect x="2171.9" y="1215" width="4" height="12" fill="#000"/><rect x="2187.7" y="1215" width="4" height="12" fill="#000"/><rect x="2203.5" y="1215" width="4" height="12" fill="#000"/><rect x="2211.8" y="1215" width="4" height="12" fill="#000"/><rect x="2294.7" y="1215" width="4" height="12" fill="#000"/><rect x="2335.9" y="1215" width="4" height="12" fill="#000"/><rect x="2365" y="1215" width="4" height="12" fill="#000"/><rect x="2389" y="1215" width="6" height="20" fill="#000"/><rect x="2406.2" y="1215" width="4" height="12" fill="#000"/><rect x="2422.9" y="1215" width="4" height="12" fill="#000"/><rect x="2435.1" y="1215" width="4" height="12" fill="#000"/><rect x="2447.8" y="1215" width="4" height="12" fill="#000"/><rect x="2530.6" y="1215" width="4" height="12" fill="#000"/><rect x="2571.6" y="1215" width="4" height="12" fill="#000"/>
<g style="font-family:&quot;Liberation Sans&quot;, sans-serif" fill="#000">
<text x="57.3016" y="60.2" font-size="47.5" stroke="#000" stroke-width="1.2" stroke-linejoin="round" textLength="688.708" lengthAdjust="spacingAndGlyphs" text-anchor="start">Anti-Neuroligin-1 [IPI-NLGN1.31]</text>
<text x="57.2993" y="114.8" font-size="47.5" stroke="#000" stroke-width="1.2" stroke-linejoin="round" textLength="383.713" lengthAdjust="spacingAndGlyphs" text-anchor="start">Addgene #250792</text>
<text x="224.146" y="215.5" font-size="50" stroke="#000" stroke-width="1.2" stroke-linejoin="round" textLength="330.471" lengthAdjust="spacingAndGlyphs" text-anchor="start">ExpiCHO cells</text>
<text x="1548.74" y="215.3" font-size="50" stroke="#000" stroke-width="1.2" stroke-linejoin="round" textLength="331.075" lengthAdjust="spacingAndGlyphs" text-anchor="start">ExpiCHO cells</text>
<text x="1050.65" y="215.4" font-size="50" stroke="#000" stroke-width="1.2" stroke-linejoin="round" textLength="186.388" lengthAdjust="spacingAndGlyphs" text-anchor="start">hNLGN1</text>
<text x="2351.04" y="215.3" font-size="50" stroke="#000" stroke-width="1.2" stroke-linejoin="round" textLength="201.402" lengthAdjust="spacingAndGlyphs" text-anchor="start">mNLGN1</text>
<text x="652.324" y="1384.8" font-size="51" stroke="#000" stroke-width="1.2" stroke-linejoin="round" textLength="147.915" lengthAdjust="spacingAndGlyphs" text-anchor="start">RL2-H</text>
<text x="1963.02" y="1384.8" font-size="51" stroke="#000" stroke-width="1.2" stroke-linejoin="round" textLength="146.825" lengthAdjust="spacingAndGlyphs" text-anchor="start">RL2-H</text>
<text x="622" y="1479.4" font-size="47" stroke="#000" stroke-width="1.2" stroke-linejoin="round" textLength="703.111" lengthAdjust="spacingAndGlyphs" text-anchor="start">Transfected with negative control</text>
<text x="1437.89" y="1479.6" font-size="47" stroke="#000" stroke-width="1.2" stroke-linejoin="round" textLength="658.018" lengthAdjust="spacingAndGlyphs" text-anchor="start">Transfected with target antigen</text>
<text x="81.1431" y="225.4" font-size="42.5" textLength="73.048" lengthAdjust="spacingAndGlyphs" text-anchor="start">100</text>
<text x="105.158" y="428.8" font-size="42.5" textLength="49.3323" lengthAdjust="spacingAndGlyphs" text-anchor="start">80</text>
<text x="105.154" y="627.6" font-size="42.5" textLength="49.3323" lengthAdjust="spacingAndGlyphs" text-anchor="start">60</text>
<text x="106.246" y="830" font-size="42.5" textLength="48.1851" lengthAdjust="spacingAndGlyphs" text-anchor="start">40</text>
<text x="105.154" y="1028.9" font-size="42.5" textLength="49.3323" lengthAdjust="spacingAndGlyphs" text-anchor="start">20</text>
<text x="131.56" y="1210.7" font-size="42.5" textLength="22.2779" lengthAdjust="spacingAndGlyphs" text-anchor="start">0</text>
<text x="1402.14" y="225.4" font-size="42.5" textLength="73.048" lengthAdjust="spacingAndGlyphs" text-anchor="start">100</text>
<text x="1426.16" y="428.8" font-size="42.5" textLength="49.3323" lengthAdjust="spacingAndGlyphs" text-anchor="start">80</text>
<text x="1426.15" y="627.6" font-size="42.5" textLength="49.3323" lengthAdjust="spacingAndGlyphs" text-anchor="start">60</text>
<text x="1427.25" y="830" font-size="42.5" textLength="48.1851" lengthAdjust="spacingAndGlyphs" text-anchor="start">40</text>
<text x="1426.15" y="1028.9" font-size="42.5" textLength="49.3323" lengthAdjust="spacingAndGlyphs" text-anchor="start">20</text>
<text x="1452.56" y="1210.7" font-size="42.5" textLength="22.2779" lengthAdjust="spacingAndGlyphs" text-anchor="start">0</text>
<text x="221.829" y="1314.3" font-size="42.5" textLength="49.0281" lengthAdjust="spacingAndGlyphs" text-anchor="start">10</text>
<text x="270.129" y="1285" font-size="42.5" textLength="25.0627" lengthAdjust="spacingAndGlyphs" text-anchor="start">2</text>
<text x="432.829" y="1314.3" font-size="42.5" textLength="49.0281" lengthAdjust="spacingAndGlyphs" text-anchor="start">10</text>
<text x="482.508" y="1285" font-size="42.5" textLength="23.3918" lengthAdjust="spacingAndGlyphs" text-anchor="start">3</text>
<text x="664.989" y="1314.3" font-size="42.5" textLength="47.9996" lengthAdjust="spacingAndGlyphs" text-anchor="start">10</text>
<text x="714.691" y="1285" font-size="42.5" textLength="22.2719" lengthAdjust="spacingAndGlyphs" text-anchor="start">4</text>
<text x="899.971" y="1314.3" font-size="42.5" textLength="49.1158" lengthAdjust="spacingAndGlyphs" text-anchor="start">10</text>
<text x="949.6" y="1285" font-size="42.5" textLength="23.5294" lengthAdjust="spacingAndGlyphs" text-anchor="start">5</text>
<text x="1136.69" y="1314.3" font-size="42.5" textLength="47.9996" lengthAdjust="spacingAndGlyphs" text-anchor="start">10</text>
<text x="1185.24" y="1285" font-size="42.5" textLength="23.5294" lengthAdjust="spacingAndGlyphs" text-anchor="start">6</text>
<text x="1542.28" y="1314.3" font-size="42.5" textLength="49.1412" lengthAdjust="spacingAndGlyphs" text-anchor="start">10</text>
<text x="1590.66" y="1285" font-size="42.5" textLength="25.017" lengthAdjust="spacingAndGlyphs" text-anchor="start">2</text>
<text x="1753.28" y="1314.3" font-size="42.5" textLength="49.1412" lengthAdjust="spacingAndGlyphs" text-anchor="start">10</text>
<text x="1802.85" y="1285" font-size="42.5" textLength="23.6475" lengthAdjust="spacingAndGlyphs" text-anchor="start">3</text>
<text x="1985.53" y="1314.3" font-size="42.5" textLength="47.8879" lengthAdjust="spacingAndGlyphs" text-anchor="start">10</text>
<text x="2035.16" y="1285" font-size="42.5" textLength="22.2779" lengthAdjust="spacingAndGlyphs" text-anchor="start">4</text>
<text x="2220.52" y="1314.3" font-size="42.5" textLength="49.1158" lengthAdjust="spacingAndGlyphs" text-anchor="start">10</text>
<text x="2270.19" y="1285" font-size="42.5" textLength="23.5294" lengthAdjust="spacingAndGlyphs" text-anchor="start">5</text>
<text x="2457.21" y="1314.3" font-size="42.5" textLength="47.8879" lengthAdjust="spacingAndGlyphs" text-anchor="start">10</text>
<text x="2505.65" y="1285" font-size="42.5" textLength="23.5294" lengthAdjust="spacingAndGlyphs" text-anchor="start">6</text>
<g transform="translate(56,1064.5) rotate(-90)"><text x="-3.5" y="0" font-size="50.5" stroke="#000" stroke-width="1.2" stroke-linejoin="round" textLength="707" lengthAdjust="spacingAndGlyphs" text-anchor="start">Percentage of maximum count</text></g>
<g transform="translate(1367,1064.5) rotate(-90)"><text x="-3.5" y="0" font-size="50.5" stroke="#000" stroke-width="1.2" stroke-linejoin="round" textLength="707" lengthAdjust="spacingAndGlyphs" text-anchor="start">Percentage of maximum count</text></g>
<rect x="547" y="1427" width="1561.7" height="76.9" fill="none" stroke="#000" stroke-width="4"/>
<rect x="569.2" y="1446.4" width="34.8" height="34.9" fill="#b4b4b4" stroke="#414144" stroke-width="4.4"/>
<rect x="1385.15" y="1447.25" width="34.7" height="34.9" fill="#f9aaad" stroke="#ec1c24" stroke-width="4.5"/>
</g>
</svg>
</body></html>
